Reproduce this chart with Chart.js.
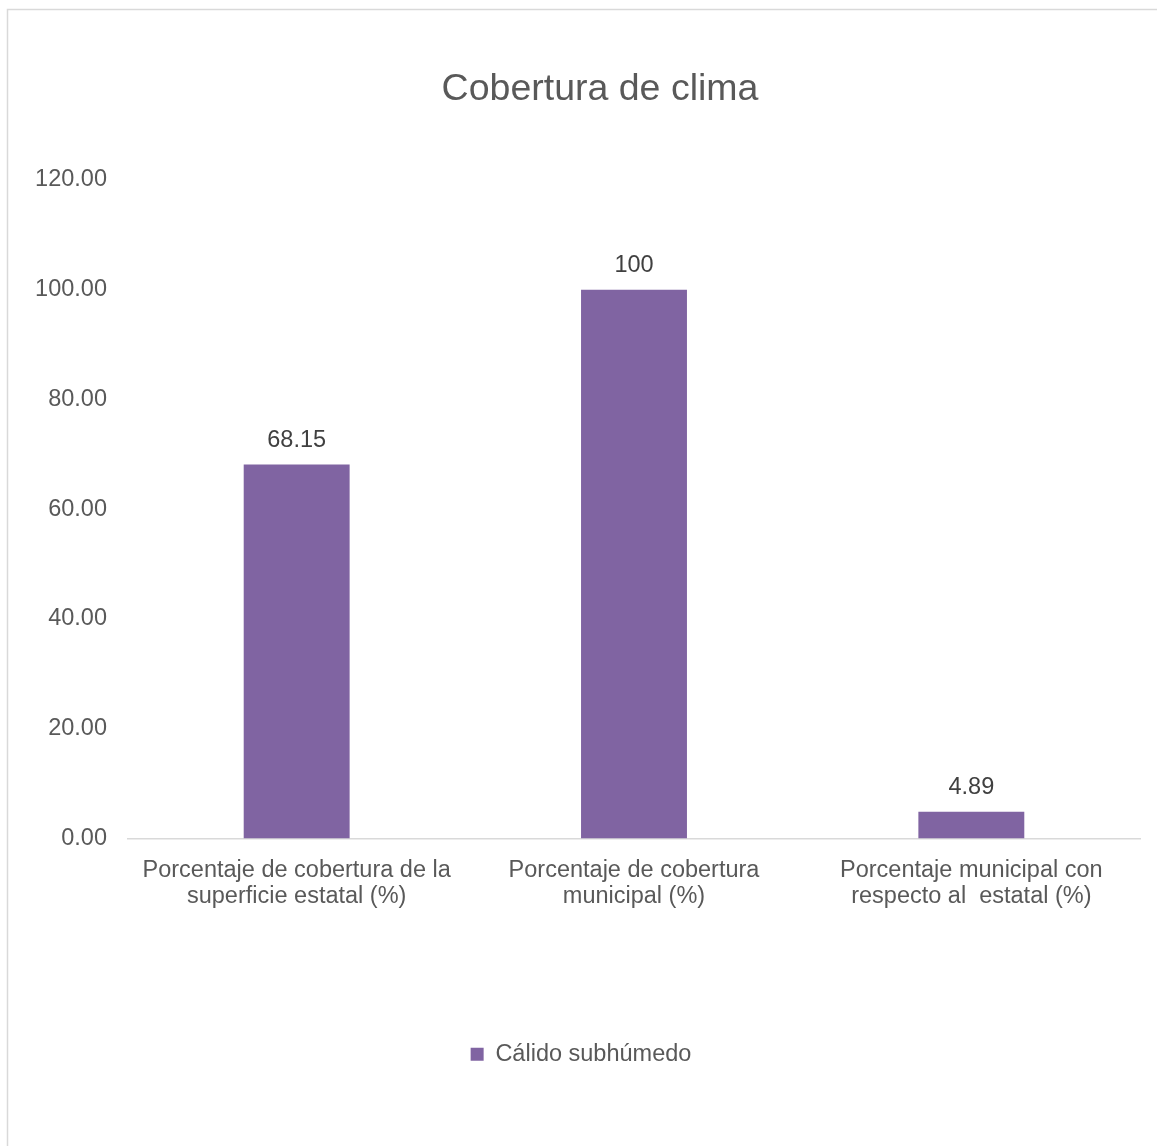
<!DOCTYPE html>
<html>
<head>
<meta charset="utf-8">
<script src="https://cdn.jsdelivr.net/npm/chart.js@4/dist/chart.umd.min.js"></script>
<style>
html,body{margin:0;padding:0;background:#fff;}
#wrap{width:1157px;height:1146px;position:relative;}
</style>
</head>
<body>
<div id="wrap"><canvas id="c" width="1157" height="1146"></canvas></div>
<script>
const chartTitle = "Cobertura de clima";
const categories = [
  ["Porcentaje de cobertura de la", "superficie estatal (%)"],
  ["Porcentaje de cobertura", "municipal (%)"],
  ["Porcentaje municipal con", "respecto al  estatal (%)"]
];
const seriesName = "Cálido subhúmedo";
const seriesValues = [68.15, 100, 4.89];
const valueLabels = ["68.15", "100", "4.89"];
const yTicks = [0, 20, 40, 60, 80, 100, 120];

const FONT = "'Liberation Sans', Arial, sans-serif";
const BAR = "#8064a2";

const framePlugin = {
  id: 'frame',
  beforeDraw(chart) {
    const ctx = chart.ctx;
    ctx.save();
    ctx.fillStyle = '#ffffff';
    ctx.fillRect(0, 0, chart.width, chart.height);
    ctx.strokeStyle = '#d9d9d9';
    ctx.lineWidth = 1.5;
    ctx.beginPath();
    ctx.moveTo(7.5, chart.height + 2);
    ctx.lineTo(7.5, 9.5);
    ctx.lineTo(chart.width + 2, 9.5);
    ctx.stroke();
    ctx.font = "37.5px " + FONT;
    ctx.fillStyle = '#595959';
    ctx.textAlign = 'center';
    ctx.textBaseline = 'middle';
    ctx.fillText(chartTitle, 600, 90);
    ctx.restore();
  }
};

const valuePlugin = {
  id: 'values',
  afterDatasetsDraw(chart) {
    const ctx = chart.ctx;
    const meta = chart.getDatasetMeta(0);
    ctx.save();
    ctx.font = "23.5px " + FONT;
    ctx.fillStyle = '#404040';
    ctx.textAlign = 'center';
    ctx.textBaseline = 'middle';
    meta.data.forEach((bar, i) => {
      ctx.fillText(valueLabels[i], bar.x, bar.y - 24);
    });
    ctx.restore();
  }
};

new Chart(document.getElementById('c'), {
  type: 'bar',
  data: {
    labels: categories,
    datasets: [{
      label: seriesName,
      data: seriesValues,
      backgroundColor: BAR,
      borderWidth: 0,
      barPercentage: 0.314,
      categoryPercentage: 1.0
    }]
  },
  options: {
    responsive: false,
    animation: false,
    devicePixelRatio: 1,
    layout: { padding: { left: 22, right: 17, top: 180, bottom: 70 } },
    plugins: {
      title: { display: false },
      legend: {
        display: true,
        position: 'bottom',
        labels: {
          color: '#595959',
          font: { family: FONT, size: 23.5 },
          boxWidth: 13,
          boxHeight: 13,
          padding: 10
        }
      },
      tooltip: { enabled: false }
    },
    scales: {
      x: {
        grid: { display: false, drawTicks: false },
        border: { display: true, color: '#d9d9d9', width: 1.5 },
        ticks: {
          color: '#595959',
          font: { family: FONT, size: 23.5, lineHeight: 1.12 },
          padding: 19,
          maxRotation: 0,
          autoSkip: false
        },
        afterFit(scale) { scale.height = 194; }
      },
      y: {
        min: 0,
        max: 120,
        afterBuildTicks(scale) { scale.ticks = yTicks.map(v => ({ value: v })); },
        grid: { display: false, drawTicks: false },
        border: { display: false },
        ticks: {
          color: '#595959',
          font: { family: FONT, size: 23.5 },
          padding: 21,
          callback: v => Number(v).toFixed(2)
        },
        afterFit(scale) { scale.width = 106; }
      }
    }
  },
  plugins: [framePlugin, valuePlugin]
});
</script>
</body>
</html>
